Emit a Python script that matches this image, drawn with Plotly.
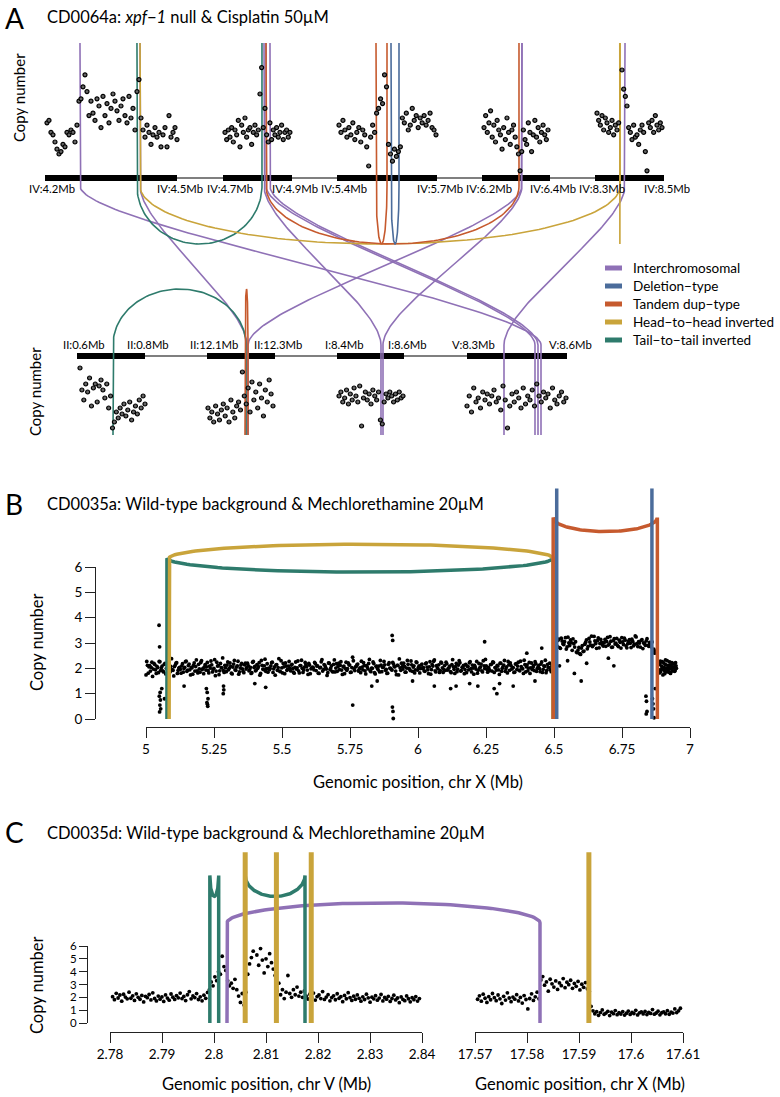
import numpy as np
import plotly.graph_objects as go

# ---------------- data ----------------
sv_color = {"inter": "#8f71b6", "del": "#4b6c9b", "td": "#c65a2e",
            "hh": "#c9a43b", "tt": "#2e7b6c"}
legend_keys = ["inter", "del", "td", "hh", "tt"]
legend_names = ["Interchromosomal", "Deletion\u2212type", "Tandem dup\u2212type",
                "Head\u2212to\u2212head inverted", "Tail\u2212to\u2212tail inverted"]

a_title = "CD0064a: <i>xpf\u22121</i> null &amp; Cisplatin 50\u00b5M"
b_title = "CD0035a: Wild-type background &amp; Mechlorethamine 20\u00b5M"
c_title = "CD0035d: Wild-type background &amp; Mechlorethamine 20\u00b5M"

# panel A: chromosome windows (Mb)
a_seg_chr = ["IV", "IV", "IV", "IV", "IV", "II", "II", "I", "V"]
a_seg_start = [4.2, 4.7, 5.4, 6.2, 8.3, 0.6, 12.1, 8.4, 8.3]
a_seg_end = [4.5, 4.9, 5.7, 6.4, 8.5, 0.8, 12.3, 8.6, 8.6]

# copy-number bins shown in each window: first / last bin (Mb) and values
a_bin_from = [4.2045, 4.7058, 5.406, 6.2059, 8.3058, 0.6088, 12.1029, 8.406, 8.3]
a_bin_to = [4.5, 4.894, 5.697, 6.3941, 8.4942, 0.8, 12.2941, 8.597, 8.597]
a_cn = [
    [2.3, 2.4, 1.9, 1.8, 1.5, 1.2, 1.0, 1.1, 1.4, 1.3, 1.9, 1.8, 2.0, 1.9, 1.5, 2.2,
     3.2, 3.3, 3.8, 4.3, 3.6, 2.6, 3.2, 2.7, 2.4, 3.3, 3.0, 2.1, 3.4, 2.6, 3.1, 2.3,
     2.9, 3.5, 3.2, 2.8, 2.4, 3.0, 3.3, 2.6, 2.3, 3.4, 2.5, 2.9, 2.0, 3.6,
     4.1, 2.5, 2.0, 1.7, 2.2, 1.9, 1.4, 1.8, 2.1, 1.7, 1.9, 1.3, 1.8, 2.1, 1.3, 2.6,
     1.7, 1.9, 2.1, 1.6],
    [1.9, 1.6, 2.0, 1.7, 2.1, 1.5, 2.0, 1.8, 2.4, 1.3, 2.2, 1.9, 2.5, 1.7, 2.0, 2.1,
     1.4, 1.9, 2.2, 1.8, 2.0, 3.5, 4.6, 2.1, 2.9, 1.8, 1.5, 2.3, 1.6, 2.0, 1.8, 2.1,
     1.7, 1.9, 2.2, 1.6, 1.9, 2.0, 1.7, 1.9],
    [2.2, 1.9, 2.4, 2.0, 1.7, 2.1, 1.8, 2.3, 1.6, 1.9, 2.1, 1.5, 2.0, 1.8, 1.3, 0.5,
     1.7, 2.2, 1.9, 2.7, 2.9, 3.3, 3.1, 4.3, 3.8, 1.4, 1.0, 0.7, 1.2, 0.9, 1.1, 1.3,
     2.5, 2.3, 2.7, 2.0, 2.2, 2.9, 2.4, 2.6, 2.1, 2.5, 2.3, 2.6, 2.2, 2.4, 2.7, 2.1,
     2.0, 1.8],
    [2.1, 2.6, 1.9, 2.3, 2.8, 1.7, 2.2, 1.5, 2.4, 2.0, 1.8, 1.2, 2.1, 1.6, 2.5, 1.9,
     1.4, 2.0, 2.2, 1.7, 1.3, 1.0, 0.3, 1.1, 2.0, 1.6, 1.4, 2.3, 1.9, 1.1, 1.8, 2.4,
     1.7, 2.1, 1.5, 1.9, 2.2, 1.8, 1.6, 2.0],
    [2.7, 2.4, 2.2, 2.6, 2.0, 2.5, 2.3, 1.9, 2.1, 2.4, 1.8, 2.2, 2.0, 2.3, 6.0, 4.5,
     3.7, 3.4, 3.0, 2.1, 1.9, 1.6, 2.2, 1.7, 1.8, 1.4, 2.0, 2.2, 1.9, 1.1, 0.3, 2.3,
     2.1, 2.4, 1.9, 2.6, 2.2, 2.0, 2.3, 2.1],
    [3.2, 2.1, 1.6, 2.4, 2.0, 2.7, 1.3, 2.2, 2.4, 1.5, 2.3, 2.6, 2.1, 1.7, 2.4, 1.2,
     1.8, 0.2, 0.5, 1.0, 0.7, 1.2, 0.9, 1.4, 0.8, 1.1, 1.5, 0.6, 1.0, 1.3, 0.9, 1.6,
     1.2, 1.8, 1.4],
    [1.2, 0.7, 1.0, 0.5, 1.3, 0.9, 0.6, 1.1, 1.4, 0.8, 1.2, 0.5, 1.6, 1.0, 0.7, 1.3,
     1.5, 1.1, 3.0, 1.8, 1.4, 2.2, 1.0, 2.5, 1.6, 2.0, 1.2, 2.4, 1.7, 0.8, 2.1, 1.5,
     2.6, 1.9, 1.3],
    [1.8, 2.0, 1.5, 1.7, 2.1, 1.4, 1.9, 1.6, 2.2, 1.8, 1.5, 2.3, 0.3, 1.7, 2.0, 1.6,
     1.9, 1.4, 2.1, 1.8, 1.6, 2.0, 0.6, 0.4, 1.5, 1.9, 1.7, 2.0, 1.8, 1.5, 1.9, 1.6,
     2.0, 1.7, 1.8],
    [1.3, 1.8, 1.0, 2.2, 1.5, 1.7, 1.2, 2.0, 1.6, 1.9, 1.4, 1.8, 2.1, 1.5, 1.7, 1.1,
     2.3, 1.6, 0.2, 1.3, 1.9, 1.5, 2.0, 1.7, 1.2, 2.2, 1.4, 1.8, 1.6, 2.1, 1.3, 2.4,
     1.8, 1.5, 2.0, 1.7, 1.9, 1.2, 2.2, 1.6, 1.4, 1.8, 2.0, 1.5, 1.7],
]

# panel A: rearrangements (type, chrom/pos of both ends)
a_sv_type = ["inter", "inter", "inter", "inter", "inter", "inter", "inter", "inter",
             "tt", "tt", "hh", "hh", "td", "td", "td", "del"]
a_sv_chr1 = ["IV", "IV", "IV", "IV", "IV", "IV", "IV", "IV",
             "IV", "II", "IV", "IV", "IV", "IV", "II", "IV"]
a_sv_pos1 = [4.2795, 4.416, 4.8188, 4.8246, 4.8362, 6.3176, 6.3176, 8.387,
             4.409, 0.7059, 4.416, 8.3718, 4.8246, 5.517, 12.2118, 5.562]
a_sv_chr2 = ["V", "II", "I", "V", "V", "II", "I", "V",
             "IV", "II", "IV", "IV", "IV", "IV", "II", "IV"]
a_sv_pos2 = [8.522, 12.2176, 8.5313, 8.504, 8.513, 12.2206, 8.5373, 8.411,
             4.813, 12.2147, 8.3725, 8.3725, 6.3088, 5.55, 12.2206, 5.586]

# panel B: copy number along chr X (two interleaved sets of bins)
b_main_from, b_main_to = 4.89, 6.495
b_cn_main = [
    2.05, 1.88, 2.21, 1.93, 2.12, 1.76, 2.30, 2.01, 1.95, 2.18, 1.84, 2.09, 2.35, 1.91, 2.03,
    1.72, 2.14, 2.22, 1.86, 2.00, 1.97, 2.27, 1.81, 2.11, 2.04, 1.68, 2.19, 1.94, 2.08, 1.83,
    2.26, 2.02, 1.90, 2.16, 1.78, 2.13, 1.99, 1.87, 2.38, 1.92, 2.07, 2.20, 1.80, 2.01, 1.96,
    2.10, 1.85, 2.04, 2.28, 1.93, 2.17, 1.74, 2.02, 2.12, 1.89, 2.33, 1.82, 1.98, 2.23, 1.95,
    1.79, 2.15, 2.06, 1.91, 2.09, 2.29, 1.86, 2.00, 1.71, 2.24, 2.11, 1.90, 2.03, 2.41, 1.84,
    2.02, 2.13, 1.94, 2.21, 1.81, 2.05, 2.31, 1.92, 2.10, 1.77, 2.01, 2.19, 1.88, 2.14, 1.97,
    2.20, 1.90, 2.04, 1.83, 2.27, 2.08, 1.93, 2.00, 2.22, 1.80, 2.12, 1.95, 2.36, 1.99, 1.85,
    1.94, 2.10, 2.24, 1.98, 1.73, 2.15, 2.03, 1.89, 2.30, 1.82, 2.06, 2.21, 1.92, 2.09, 2.00,
    2.13, 1.99, 1.81, 2.25, 2.02, 1.90, 2.11, 2.32, 1.84, 2.05, 2.14, 1.93, 2.19, 1.79, 2.01,
    2.03, 2.23, 1.91, 2.10, 1.80, 2.04, 2.34, 1.95, 2.12, 1.97, 1.83, 2.20, 2.01, 1.88, 2.16,
    1.86, 2.18, 2.07, 1.95, 2.26, 1.76, 2.09, 2.00, 1.92, 2.21, 2.13, 1.85, 2.44, 1.98, 2.06,
    2.15, 1.89, 2.02, 2.28, 1.94, 2.11, 1.78, 2.05, 2.19, 1.90, 2.01, 2.25, 1.83, 2.08, 1.99,
    2.09, 2.31, 1.87, 2.04, 2.14, 1.96, 1.81, 2.22, 2.00, 1.93, 2.17, 2.06, 1.75, 2.12, 2.37,
    1.92, 2.07, 2.20, 1.85, 2.01, 2.16, 1.97, 2.29, 1.88, 2.10, 1.94, 2.23, 2.03, 1.82, 2.13,
    2.00, 1.90, 2.18, 2.05, 1.79, 2.26, 1.95, 2.09, 2.33, 1.86, 2.02, 2.14, 1.91, 2.21, 1.84,
    2.11, 2.24, 1.93, 2.02, 1.87, 2.15, 2.06, 1.80, 2.19, 1.97, 2.30, 1.89, 2.04, 2.12, 1.95,
    1.83, 2.08, 2.22, 1.99, 2.13, 1.77, 2.05, 2.27, 1.92, 2.01, 2.17, 1.86, 2.10, 2.35, 1.96,
    2.04, 1.91, 2.16, 2.25, 1.84, 2.02, 2.12, 1.94, 2.20, 1.88, 2.07, 2.31, 1.98, 1.82, 2.14,
    2.21, 1.97, 2.03, 1.85, 2.18, 2.09, 1.93, 2.28, 2.00, 1.80, 2.15, 2.06, 1.90, 2.23, 2.02,
    1.95, 2.12, 2.26, 1.88, 2.05, 1.99, 2.17, 1.84, 2.10, 2.32, 1.92, 2.04, 2.20, 1.87, 2.08,
]
b_main2_from, b_main2_to = 4.8927, 6.4977
b_cn_main2 = [
    1.96, 2.14, 1.85, 2.07, 2.25, 1.90, 2.02, 1.79, 2.17, 1.98, 2.29, 1.87, 2.05, 1.93, 2.20,
    2.10, 1.83, 2.01, 2.32, 1.95, 1.74, 2.12, 2.06, 1.89, 2.24, 1.97, 2.15, 1.80, 2.03, 2.27,
    1.91, 2.09, 1.86, 2.19, 2.00, 2.36, 1.84, 2.08, 1.95, 1.70, 2.13, 2.22, 1.92, 2.04, 1.81,
    2.18, 1.99, 2.26, 1.88, 2.11, 1.94, 2.03, 1.77, 2.21, 2.07, 1.90, 2.16, 1.85, 2.30, 2.00,
    2.06, 1.93, 2.23, 1.82, 2.01, 2.14, 1.96, 2.34, 1.89, 2.09, 1.75, 2.19, 2.02, 1.91, 2.12,
    1.87, 2.25, 2.00, 2.08, 1.78, 2.17, 1.94, 2.05, 2.28, 1.86, 2.13, 1.98, 1.83, 2.20, 2.04,
    2.11, 1.95, 1.80, 2.24, 2.03, 1.90, 2.15, 2.07, 1.73, 2.31, 1.97, 2.10, 1.88, 2.18, 2.01,
    1.99, 2.22, 1.84, 2.06, 2.14, 1.92, 2.38, 1.87, 2.02, 2.19, 1.79, 2.09, 1.96, 2.27, 1.90,
    2.16, 1.85, 2.04, 1.97, 2.29, 1.82, 2.11, 2.00, 1.93, 2.23, 2.07, 1.76, 2.13, 1.98, 2.05,
    1.94, 2.18, 2.09, 1.81, 2.02, 2.26, 1.89, 2.15, 2.04, 1.72, 2.21, 1.95, 2.10, 1.86, 2.33,
    2.01, 1.88, 2.20, 2.12, 1.93, 2.06, 1.79, 2.24, 1.99, 2.14, 1.84, 2.03, 2.30, 1.91, 2.08,
    2.17, 1.96, 1.83, 2.05, 2.22, 1.90, 2.11, 1.98, 2.35, 1.87, 2.00, 2.19, 1.78, 2.09, 1.94,
    1.86, 2.13, 2.04, 2.27, 1.92, 1.80, 2.16, 2.01, 1.95, 2.23, 2.07, 1.89, 2.12, 1.74, 2.02,
    2.20, 1.97, 2.08, 1.85, 2.31, 2.00, 1.91, 2.14, 2.05, 1.82, 2.25, 1.93, 2.10, 1.99, 2.17,
    2.03, 1.88, 2.21, 1.94, 2.06, 1.77, 2.15, 2.28, 1.90, 2.11, 1.98, 1.84, 2.24, 2.02, 1.95,
    1.92, 2.18, 2.00, 2.09, 1.83, 2.34, 1.96, 2.07, 1.87, 2.13, 2.22, 1.91, 2.04, 1.79, 2.16,
    2.08, 1.94, 2.26, 1.86, 2.01, 2.12, 1.97, 1.81, 2.19, 2.05, 1.90, 2.30, 1.99, 2.10, 1.85,
    1.97, 2.15, 1.89, 2.23, 2.03, 1.93, 2.09, 1.76, 2.20, 2.00, 2.13, 1.88, 2.06, 2.27, 1.92,
    2.11, 2.02, 1.84, 2.17, 1.95, 2.24, 1.90, 2.07, 1.98, 2.32, 1.86, 2.14, 2.01, 1.80, 2.21,
    2.04, 1.91, 2.18, 2.00, 2.12, 1.87, 2.25, 1.96, 2.08, 1.83, 2.16, 2.03, 1.94, 2.10, 1.99,
]
b_dup_from, b_dup_to = 6.505, 6.87
b_cn_dup = [
    3.02, 2.88, 3.15, 2.79, 3.08, 2.94, 3.21, 2.85, 3.00, 3.12, 2.71, 2.97, 3.05, 2.62, 2.83,
    2.55, 2.90, 2.68, 3.03, 2.77, 3.18, 2.92, 2.86, 3.26, 2.98, 3.09, 2.81, 3.14, 2.93, 3.01,
    2.87, 3.22, 2.96, 3.07, 2.84, 3.17, 2.99, 2.90, 3.11, 2.80, 3.04, 3.19, 2.89, 2.97, 3.13,
    2.82, 3.06, 2.95, 3.24, 2.86, 3.00, 3.10, 2.78, 2.98, 3.08, 2.91, 3.02, 2.85, 2.70, 2.60,
]
b_dup2_from, b_dup2_to = 6.508, 6.873
b_cn_dup2 = [
    2.93, 3.10, 2.82, 3.19, 2.97, 3.05, 2.76, 3.23, 2.90, 3.01, 3.16, 2.84, 2.64, 2.72, 2.58,
    2.80, 2.66, 2.95, 3.12, 2.87, 3.04, 3.27, 2.91, 3.08, 2.79, 3.20, 2.98, 3.02, 2.88, 3.14,
    3.06, 2.92, 3.25, 2.83, 3.09, 2.96, 3.18, 2.86, 3.03, 3.21, 2.94, 3.11, 2.81, 3.07, 2.99,
    3.15, 2.89, 3.28, 2.97, 3.05, 2.84, 3.13, 3.00, 2.91, 3.17, 2.87, 2.95, 3.04, 2.76, 2.68,
]
b_end_from, b_end_to = 6.885, 6.95
b_cn_end = [2.15, 1.82, 2.28, 1.95, 2.06, 1.74, 2.21, 1.90, 2.33, 2.01, 1.86, 2.12,
            1.97, 2.25, 1.80, 2.08, 1.93, 2.18, 2.03, 1.88, 2.22, 2.00]
b_end2_from, b_end2_to = 6.8865, 6.9485
b_cn_end2 = [1.94, 2.19, 1.87, 2.09, 2.26, 1.97, 2.04, 1.79, 2.15, 2.00, 2.30, 1.91,
             2.07, 1.84, 2.13, 1.98, 2.22, 1.89, 2.05, 2.17, 1.93, 2.10]
b_out_x = [5.048, 5.050, 5.052, 5.049, 5.053, 5.051, 5.054, 5.050, 5.068, 5.058,
           5.222, 5.225, 5.228, 5.224, 5.227, 5.226, 5.285, 5.286, 5.284,
           5.14, 5.40, 5.44, 5.76, 5.83, 5.85, 5.905, 5.907, 5.906, 5.908, 5.909,
           5.98, 6.06, 6.12, 6.14, 6.19, 6.22, 6.245, 6.28, 6.29, 6.30, 6.35, 6.40, 6.43, 6.455,
           6.52, 6.55, 6.575, 6.60, 6.62, 6.70, 6.72,
           6.838, 6.840, 6.842, 6.839, 6.862, 6.864, 6.866, 6.868, 6.872]
b_out_y = [3.70, 2.85, 1.05, 0.90, 0.75, 0.55, 0.40, 0.28, 0.80, 1.20,
           1.20, 1.05, 0.80, 0.65, 0.50, 0.58, 1.30, 1.15, 1.00,
           1.30, 1.40, 1.25, 0.55, 1.30, 1.50, 3.30, 3.10, 0.47, 0.30, 0.02,
           1.50, 1.30, 1.20, 1.30, 1.40, 1.30, 3.05, 1.20, 1.00, 1.40, 1.30, 2.60, 1.50, 2.80,
           2.10, 2.30, 1.80, 1.50, 2.20, 2.40, 2.10,
           0.90, 0.70, 0.30, 0.20, 0.80, 0.60, 0.40, 0.05, 1.20]
b_sv_type = ["tt", "hh", "td", "del"]
b_sv_pos1 = [5.077, 5.085, 6.497, 6.51]
b_sv_pos2 = [6.497, 6.497, 6.88, 6.86]
b_xticks = [5, 5.25, 5.5, 5.75, 6, 6.25, 6.5, 6.75, 7]
b_yticks = [0, 1, 2, 3, 4, 5, 6]

# panel C: chr V window and chr X window
c_v_from, c_v_to = 2.7805, 2.8395
c_cn_v = [
    2.05, 1.82, 2.31, 1.95, 2.18, 1.70, 2.24, 2.02, 1.88, 2.40, 1.93, 2.12, 1.76, 2.27, 2.00,
    1.85, 2.15, 1.64, 2.08, 1.97, 2.22, 1.80, 2.35, 1.91, 1.72, 2.10, 1.86, 2.03, 1.68, 2.19,
    1.94, 1.78, 2.26, 2.01, 1.84, 2.14, 1.96, 2.33, 1.90, 2.07, 1.75, 2.20, 2.45, 1.88, 2.11,
    1.98, 2.29, 1.83, 2.04, 1.73, 2.17, 1.92, 2.38,
    2.6, 3.2, 2.9, 3.6, 3.3, 4.0, 3.8, 5.2, 4.4, 4.1,
    3.3, 2.9, 3.1, 2.7, 3.4, 2.6, 2.1, 1.6, 2.3, 1.4,
    2.4, 3.8, 4.6, 5.1, 5.6, 6.2, 5.3, 4.5, 5.8, 4.9, 3.9, 5.0, 4.4, 5.4, 4.7, 4.2, 3.7,
    2.5, 3.1, 2.2, 2.6, 1.9, 2.4, 3.7, 2.3, 2.0, 2.6, 2.2, 2.8, 2.1, 2.4, 2.0, 2.5,
    2.10, 1.87, 2.24, 1.95, 2.33, 1.79, 2.06, 2.18, 1.90, 2.45, 1.84, 2.02, 2.21, 1.73, 1.98,
    2.12, 1.81, 2.28, 1.93, 2.05, 1.66, 2.15, 1.89, 2.36, 1.97, 1.76, 2.09, 1.85, 2.19, 1.92,
    1.70, 2.04, 1.83, 2.25, 1.96, 1.62, 2.01, 1.88, 2.13, 1.78, 1.94, 2.22, 1.72, 1.99, 1.86,
    2.08, 1.68, 1.91, 2.17, 1.80, 1.95, 1.58, 2.03, 1.84, 1.74, 2.11, 1.89, 1.65, 1.97, 1.82,
    2.06, 1.71, 1.90,
]
c_x_from, c_x_to = 17.5705, 17.6095
c_cn_x = [
    1.85, 2.12, 1.70, 2.25, 1.93, 1.60, 2.05, 1.81, 2.30, 1.97, 1.74, 2.18, 1.88, 1.52, 2.08,
    1.79, 2.35, 1.95, 1.66, 2.02, 1.86, 2.21, 1.72, 1.99, 1.55, 2.14, 1.83, 1.10, 1.91, 2.27,
    1.76, 2.04, 2.40, 1.89,
    3.35, 3.62, 2.95, 3.20, 2.48, 3.41, 3.05, 2.80, 3.28, 2.62, 3.12, 2.91, 3.46, 2.75, 3.18,
    2.99, 3.33, 2.70, 3.08, 2.86, 3.24, 2.58, 3.02, 2.78, 3.15, 2.66, 2.45,
    1.30, 0.95, 0.72, 0.88, 0.60, 0.81, 1.02, 0.68, 0.77, 0.91, 0.58, 0.84, 0.73, 0.97, 0.65,
    0.80, 0.70, 0.89, 0.62, 0.76, 0.93, 0.67, 0.82, 0.74, 0.99, 0.63, 0.79, 0.86, 0.71, 0.90,
    0.66, 0.83, 0.75, 1.05, 0.69, 0.78, 0.92, 0.64, 0.80, 0.87, 0.72, 0.96, 0.68, 0.85, 0.77,
    1.10, 0.81, 0.95, 1.15,
]
c_sv_type = ["inter", "tt", "tt", "hh", "hh"]
c_sv_chr1 = ["V", "V", "V", "V", "V"]
c_sv_pos1 = [2.8025, 2.7992, 2.806, 2.806, 2.8187]
c_sv_chr2 = ["X", "V", "V", "V", "X"]
c_sv_pos2 = [17.5825, 2.8009, 2.8175, 2.812, 17.5919]
c_xticks_v = [2.78, 2.79, 2.8, 2.81, 2.82, 2.83, 2.84]
c_xticks_x = [17.57, 17.58, 17.59, 17.6, 17.61]
c_yticks = [0, 1, 2, 3, 4, 5, 6]

# ---------------- layout (pixels) ----------------
W, H = 780, 1097
FONT = "Lato"
INK = "#222222"


def fx(px):
    return px / W


def fy(py):
    return 1 - py / H


a_seg_px = [(45, 177), (223, 292), (337, 437), (482, 550), (595, 664),
            (77, 145), (207, 275), (337, 404), (467, 567)]
a_seg_row = ["top"] * 5 + ["bot"] * 4
A_BAR = {"top": 178, "bot": 356}
A_LAB = {"top": 188, "bot": 344}
A_TOP_LINE, A_TOP_ARC, A_TOP_DEPTH = 43, 186, 58
A_BOT_LINE, A_BOT_ARC, A_BOT_HEIGHT = 435, 345, 56

B_X0, B_X1, B_Y0, B_Y1 = 146, 690, 719, 567        # x 5..7, y 0..6
C_VX0, C_VX1, C_XX0, C_XX1 = 110, 422, 475, 683
C_Y0, C_Y1 = 1023, 946                              # y 0..6

b_height = {"tt": 6.35, "hh": 6.35, "td": 7.95, "del": 9.1}
b_arc = {"tt": 14, "hh": -14, "td": 14, "del": None}
c_height = {"inter": 7.8, "tt": 11.5, "hh": 13.3}
c_arc = {"inter": -20, "tt": 21, "hh": None}
c_width = {"inter": 3.5, "tt": 3.5, "hh": 5}


def half_ellipse(x1, x2, y0, dy, n=90):
    t = np.linspace(np.pi, 0, n)
    return list((x1 + x2) / 2 + (x2 - x1) / 2 * np.cos(t)), list(y0 + dy * np.sin(t))


def bezier(xa, ya, xb, yb, k, n=90):
    t = np.linspace(0, 1, n)
    px = [xa, xa, xb, xb]
    py = [ya, ya + k, yb - k, yb]
    w = [(1 - t) ** 3, 3 * (1 - t) ** 2 * t, 3 * (1 - t) * t ** 2, t ** 3]
    return list(sum(w[i] * px[i] for i in range(4))), list(sum(w[i] * py[i] for i in range(4)))


def a_pos(chrom, pos):
    for k in range(len(a_seg_chr)):
        if a_seg_chr[k] == chrom and a_seg_start[k] - 1e-6 <= pos <= a_seg_end[k] + 1e-6:
            x0, x1 = a_seg_px[k]
            return x0 + (pos - a_seg_start[k]) / (a_seg_end[k] - a_seg_start[k]) * (x1 - x0), a_seg_row[k]
    raise ValueError((chrom, pos))


def b_px(pos):
    return B_X0 + (pos - 5) / 2 * (B_X1 - B_X0)


def b_py(cn):
    return B_Y0 - cn / 6 * (B_Y0 - B_Y1)


def c_px(chrom, pos):
    if chrom == "V":
        return C_VX0 + (pos - 2.78) / 0.06 * (C_VX1 - C_VX0)
    return C_XX0 + (pos - 17.57) / 0.04 * (C_XX1 - C_XX0)


def c_py(cn):
    return C_Y0 - cn / 6 * (C_Y0 - C_Y1)


def sv_path(x1, x2, y_base, y_top, dy):
    if dy is None:
        return [x1, x1, None, x2, x2], [y_base, y_top, None, y_base, y_top]
    ax, ay = half_ellipse(x1, x2, y_top, dy)
    return [x1, x1] + ax + [x2, x2], [y_base, y_top] + ay + [y_top, y_base]


fig = go.Figure()

# ---- panel A: chromosome bars (overlay 1) ----
for row in ["top", "bot"]:
    ks = [k for k in range(len(a_seg_chr)) if a_seg_row[k] == row]
    fig.add_trace(go.Scatter(x=[a_seg_px[ks[0]][0], a_seg_px[ks[-1]][1]], y=[A_BAR[row]] * 2,
                             mode="lines", line=dict(color="black", width=1.2),
                             xaxis="x", yaxis="y", hoverinfo="skip"))
    bx, by = [], []
    for k in ks:
        bx += [a_seg_px[k][0], a_seg_px[k][1], None]
        by += [A_BAR[row], A_BAR[row], None]
    fig.add_trace(go.Scatter(x=bx, y=by, mode="lines", line=dict(color="black", width=6),
                             xaxis="x", yaxis="y", hoverinfo="skip"))

# ---- panel A: rearrangement links ----
for kind in ["inter", "tt", "hh", "td", "del"]:
    for i in range(len(a_sv_type)):
        if a_sv_type[i] != kind:
            continue
        x1, r1 = a_pos(a_sv_chr1[i], a_sv_pos1[i])
        x2, r2 = a_pos(a_sv_chr2[i], a_sv_pos2[i])
        if r1 == "top" and r2 == "top":
            ax, ay = half_ellipse(x1, x2, A_TOP_ARC, A_TOP_DEPTH)
            xs = [x1, x1] + ax + [x2, x2]
            ys = [A_TOP_LINE, A_TOP_ARC] + ay + [A_TOP_ARC, A_TOP_LINE]
        elif r1 == "bot" and r2 == "bot":
            ax, ay = half_ellipse(x1, x2, A_BOT_ARC, -A_BOT_HEIGHT)
            xs = [x1, x1] + ax + [x2, x2]
            ys = [A_BOT_LINE, A_BOT_ARC] + ay + [A_BOT_ARC, A_BOT_LINE]
        else:
            if r1 == "bot":
                x1, x2 = x2, x1
            bzx, bzy = bezier(x1, A_TOP_ARC, x2, A_BOT_ARC, 40)
            xs = [x1] + bzx + [x2]
            ys = [A_TOP_LINE] + bzy + [A_BOT_LINE]
        fig.add_trace(go.Scatter(x=xs, y=ys, mode="lines",
                                 line=dict(color=sv_color[kind], width=1.6),
                                 xaxis="x", yaxis="y", hoverinfo="skip"))

# ---- panel A: copy number points on each window axis ----
for k in range(len(a_seg_chr)):
    xs = np.linspace(a_bin_from[k], a_bin_to[k], len(a_cn[k]))
    fig.add_trace(go.Scatter(x=xs, y=a_cn[k], mode="markers", cliponaxis=False,
                             marker=dict(size=4, color="#666666", line=dict(color="black", width=1.2)),
                             xaxis="x%d" % (k + 2), yaxis="y2" if a_seg_row[k] == "top" else "y3",
                             hoverinfo="skip"))

# ---- panel B points ----
b_x = (list(np.linspace(b_main_from, b_main_to, len(b_cn_main)))
       + list(np.linspace(b_main2_from, b_main2_to, len(b_cn_main2)))
       + list(np.linspace(b_dup_from, b_dup_to, len(b_cn_dup)))
       + list(np.linspace(b_dup2_from, b_dup2_to, len(b_cn_dup2)))
       + list(np.linspace(b_end_from, b_end_to, len(b_cn_end)))
       + list(np.linspace(b_end2_from, b_end2_to, len(b_cn_end2))) + b_out_x)
b_y = b_cn_main + b_cn_main2 + b_cn_dup + b_cn_dup2 + b_cn_end + b_cn_end2 + b_out_y
fig.add_trace(go.Scatter(x=b_x, y=b_y, mode="markers", cliponaxis=False,
                         marker=dict(size=3.8, color="black"),
                         xaxis="x11", yaxis="y4", hoverinfo="skip"))

# ---- panel C points ----
fig.add_trace(go.Scatter(x=np.linspace(c_v_from, c_v_to, len(c_cn_v)), y=c_cn_v, mode="markers",
                         cliponaxis=False, marker=dict(size=3.8, color="black"),
                         xaxis="x12", yaxis="y5", hoverinfo="skip"))
fig.add_trace(go.Scatter(x=np.linspace(c_x_from, c_x_to, len(c_cn_x)), y=c_cn_x, mode="markers",
                         cliponaxis=False, marker=dict(size=3.8, color="black"),
                         xaxis="x13", yaxis="y5", hoverinfo="skip"))

# ---- panel B / C rearrangements (overlay 2, above points) ----
for i in range(len(b_sv_type)):
    t = b_sv_type[i]
    xs, ys = sv_path(b_px(b_sv_pos1[i]), b_px(b_sv_pos2[i]), b_py(0), b_py(b_height[t]), b_arc[t])
    fig.add_trace(go.Scatter(x=xs, y=ys, mode="lines", line=dict(color=sv_color[t], width=3.5),
                             xaxis="x14", yaxis="y6", hoverinfo="skip"))
for i in range(len(c_sv_type)):
    t = c_sv_type[i]
    xs, ys = sv_path(c_px(c_sv_chr1[i], c_sv_pos1[i]), c_px(c_sv_chr2[i], c_sv_pos2[i]),
                     c_py(0), c_py(c_height[t]), c_arc[t])
    fig.add_trace(go.Scatter(x=xs, y=ys, mode="lines", line=dict(color=sv_color[t], width=c_width[t]),
                             xaxis="x14", yaxis="y6", hoverinfo="skip"))

# ---------------- axes ----------------
hidden = dict(visible=False, fixedrange=True)
axes = {
    "xaxis": dict(domain=[0, 1], range=[0, W], **hidden),
    "yaxis": dict(domain=[0, 1], range=[H, 0], **hidden),
    "xaxis14": dict(domain=[0, 1], range=[0, W], anchor="y6", **hidden),
    "yaxis6": dict(domain=[0, 1], range=[H, 0], anchor="x14", **hidden),
    "yaxis2": dict(domain=[fy(A_BAR["top"]), fy(58)], range=[0, 5], anchor="x2", **hidden),
    "yaxis3": dict(domain=[fy(432), fy(362)], range=[0, 3.5], anchor="x7", **hidden),
}
for k in range(len(a_seg_chr)):
    axes["xaxis%d" % (k + 2)] = dict(domain=[fx(a_seg_px[k][0]), fx(a_seg_px[k][1])],
                                     range=[a_seg_start[k], a_seg_end[k]],
                                     anchor="y2" if a_seg_row[k] == "top" else "y3", **hidden)

tick_style = dict(showline=True, linecolor=INK, linewidth=1, ticks="outside", ticklen=10,
                  tickwidth=1, tickcolor=INK, showgrid=False, zeroline=False,
                  tickfont=dict(family=FONT, size=13.5, color="black"), fixedrange=True)
axes["xaxis11"] = dict(domain=[fx(B_X0), fx(B_X1)], range=[5, 7], anchor="free", position=fy(727),
                       tickvals=b_xticks, ticktext=["%g" % v for v in b_xticks], **tick_style)
axes["yaxis4"] = dict(domain=[fy(B_Y0), fy(B_Y1)], range=[0, 6], anchor="free", position=fx(95),
                      tickvals=b_yticks, ticktext=["%g" % v for v in b_yticks], **tick_style)
axes["xaxis12"] = dict(domain=[fx(C_VX0), fx(C_VX1)], range=[2.78, 2.84], anchor="free",
                       position=fy(1032), tickvals=c_xticks_v,
                       ticktext=["%g" % v for v in c_xticks_v], **tick_style)
axes["xaxis13"] = dict(domain=[fx(C_XX0), fx(C_XX1)], range=[17.57, 17.61], anchor="free",
                       position=fy(1032), tickvals=c_xticks_x,
                       ticktext=["%g" % v for v in c_xticks_x], **tick_style)
c_ystyle = dict(tick_style)
c_ystyle["ticklen"] = 8
c_ystyle["tickfont"] = dict(family=FONT, size=11.5, color="black")
axes["yaxis5"] = dict(domain=[fy(C_Y0), fy(C_Y1)], range=[0, 6], anchor="free", position=fx(87),
                      tickvals=c_yticks, ticktext=["%g" % v for v in c_yticks], **c_ystyle)

# ---------------- text ----------------
ann = []


def text(s, x, y, size, xa="left", angle=0):
    ann.append(dict(text=s, x=fx(x), y=fy(y), xref="paper", yref="paper", showarrow=False,
                    xanchor=xa, yanchor="middle", textangle=angle,
                    font=dict(family=FONT, size=size, color="black")))


for letter, y in [("A", 18), ("B", 504), ("C", 832)]:
    text(letter, 3, y, 28)
text(a_title, 45, 17, 16.5)
text(b_title, 45, 504, 16.5)
text(c_title, 45, 833, 16.5)
text("Copy number", 19, 98, 15, "center", -90)
text("Copy number", 35, 392, 15, "center", -90)
for k in range(len(a_seg_chr)):
    row = a_seg_row[k]
    text("%s:%gMb" % (a_seg_chr[k], a_seg_start[k]), a_seg_px[k][0] + 7, A_LAB[row], 11.3, "center")
    text("%s:%gMb" % (a_seg_chr[k], a_seg_end[k]), a_seg_px[k][1] + 3, A_LAB[row], 11.3, "center")
text("Copy number", 37, 642, 16.5, "center", -90)
text("Genomic position, chr X (Mb)", 418, 782, 16.5, "center")
text("Copy number", 37, 985, 16.5, "center", -90)
text("Genomic position, chr V (Mb)", 266, 1084, 16.5, "center")
text("Genomic position, chr X (Mb)", 580, 1084, 16.5, "center")

shapes = []
for j, key in enumerate(legend_keys):
    yrow = 268 + 18 * j
    shapes.append(dict(type="line", xref="paper", yref="paper", x0=fx(605), x1=fx(622),
                       y0=fy(yrow), y1=fy(yrow), line=dict(color=sv_color[key], width=5)))
    text(legend_names[j], 631, yrow, 13.5)

fig.update_layout(width=W, height=H, margin=dict(l=0, r=0, t=0, b=0, autoexpand=False),
                  paper_bgcolor="white", plot_bgcolor="rgba(0,0,0,0)",
                  showlegend=False, annotations=ann, shapes=shapes,
                  font=dict(family=FONT, color="black"), **axes)

# the page body's default 8px margin would shift the figure off the window
fig.write_html("out.html", config={"displayModeBar": False},
               post_script="document.body.style.margin='0';")
